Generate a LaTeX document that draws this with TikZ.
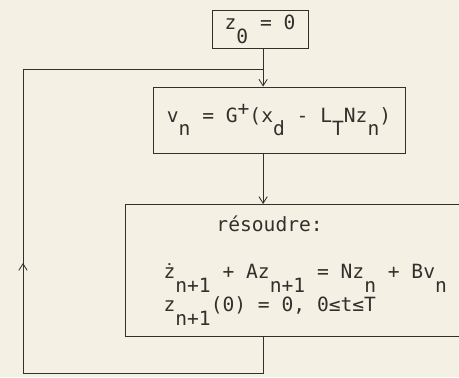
\documentclass[tikz,border=0pt]{standalone}
\usepackage{fontspec}
\usepackage{xcolor}
\usepackage{tikz}
\usetikzlibrary{arrows.meta, positioning, calc}
\newfontfamily\typew{DejaVu Sans Mono}
\definecolor{paper}{RGB}{244, 241, 228}
\definecolor{ink}{RGB}{50, 48, 44}
\newcommand{\lo}[1]{\raisebox{-0.7em}{#1}}
\newcommand{\hi}[1]{\raisebox{0.35em}{#1}}
\tikzstyle{box} = [draw=ink, line width=0.8pt, text=ink, font=\typew\fontsize{18.6}{31}\selectfont]
\tikzstyle{arrow} = [-{Straight Barb[length=2.2mm, width=2.8mm]}, draw=ink, line width=0.8pt]
\tikzstyle{line} = [draw=ink, line width=0.8pt]

\begin{document}
\begin{tikzpicture}
    % Paper
    \path[use as bounding box, fill=paper] (0,0) rectangle (15.3,12.567);
    \clip (0,0) rectangle (15.3,12.567);

    % Boxes
    \node[box, minimum width=3.2cm, minimum height=1.27cm] (init) at (8.667, 11.6) {z\lo{0} = 0};
    \node[box, minimum width=8.4cm, minimum height=2.2cm] (update) at (9.3, 8.567) {v\lo{n} = G\hi{+}(x\lo{d} - L\lo{T}Nz\lo{n})};
    \node[box, anchor=north west, align=left, inner xsep=1.27cm, minimum height=4.4cm] (solve) at (4.167, 5.767)
        {\hspace*{2.7em}résoudre:\\[14pt]
         ż\lo{n+1} + Az\lo{n+1} = Nz\lo{n} + Bv\lo{n}\\
         z\lo{n+1}(0) = 0, 0≤t≤T};

    % Feedback corners
    \coordinate (col) at (8.77, 0);
    \coordinate (join) at (8.77, 10.267);
    \coordinate (botleft) at (0.767, 0.133);
    \coordinate (topleft) at (0.767, 10.267);
    \coordinate (mid) at (0.767, 3.8);

    % Flow
    \draw[arrow] (init.south -| col) -- (update.north -| col);
    \draw[arrow] (update.south -| col) -- (solve.north -| col);
    \draw[line] (solve.south -| col) |- (botleft) -- (topleft) -- (join);
    \draw[arrow] (botleft) -- (mid);
\end{tikzpicture}
\end{document}
